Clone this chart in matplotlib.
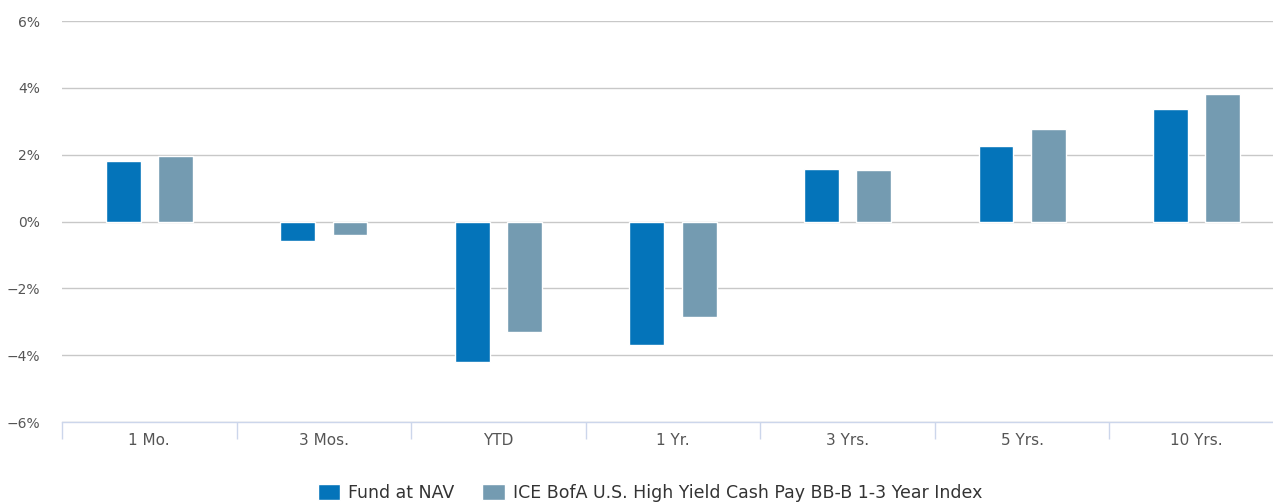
import numpy as np
import matplotlib.pyplot as plt
from matplotlib.ticker import FuncFormatter

periods = ["1 Mo.", "3 Mos.", "YTD", "1 Yr.", "3 Yrs.", "5 Yrs.", "10 Yrs."]
fund_nav = [1.82, -0.57, -4.21, -3.70, 1.58, 2.27, 3.37]
index_ret = [1.97, -0.39, -3.31, -2.87, 1.55, 2.78, 3.82]
series_names = ["Fund at NAV", "ICE BofA U.S. High Yield Cash Pay BB-B 1-3 Year Index"]
colors = ["#0474ba", "#749bb1"]

plt.rcParams["font.family"] = ["DejaVu Sans"]

fig = plt.figure(figsize=(12.73, 5.04), dpi=100)
# plot area runs slightly past the right edge of the figure
ax = fig.add_axes([62 / 1273, 1 - 422 / 504, (1284 - 62) / 1273, (422 - 21) / 504])

x = np.arange(len(periods))
w = 0.2
off = 0.15
ax.bar(x - off, fund_nav, w, color=colors[0], edgecolor="white", linewidth=1, label=series_names[0], zorder=3)
ax.bar(x + off, index_ret, w, color=colors[1], edgecolor="white", linewidth=1, label=series_names[1], zorder=3)

ax.set_xlim(-0.5, len(periods) - 0.5)
ax.set_ylim(-6, 6)
ax.set_yticks(np.arange(-6, 7, 2))
ax.yaxis.set_major_formatter(FuncFormatter(lambda v, p: f"{v:.0f}%".replace("-", "\u2212")))
ax.yaxis.grid(True, color="#c8c8c8", linewidth=1, zorder=0)
ax.set_axisbelow(True)

# category labels centred, tick marks on the category boundaries
ax.set_xticks(x)
ax.set_xticklabels(periods)
ax.set_xticks(np.arange(-0.5, len(periods)), minor=True)
ax.tick_params(axis="x", which="major", length=0, pad=8, labelsize=11, labelcolor="#555555")
ax.tick_params(axis="x", which="minor", length=12, width=1, color="#ccd6eb")
ax.tick_params(axis="y", length=0, pad=16, labelsize=10, labelcolor="#555555")

for s in ["top", "right", "left"]:
    ax.spines[s].set_visible(False)
ax.spines["bottom"].set_color("#ccd6eb")
ax.spines["bottom"].set_linewidth(1)

fig.legend(loc="center", bbox_to_anchor=(650 / 1273, 1 - 493 / 504), ncol=2, frameon=False,
           fontsize=12.5, handlelength=1.3, handleheight=1.0, columnspacing=1.6,
           handletextpad=0.45, labelcolor="#333333")

fig.savefig("out.png", dpi=100)
